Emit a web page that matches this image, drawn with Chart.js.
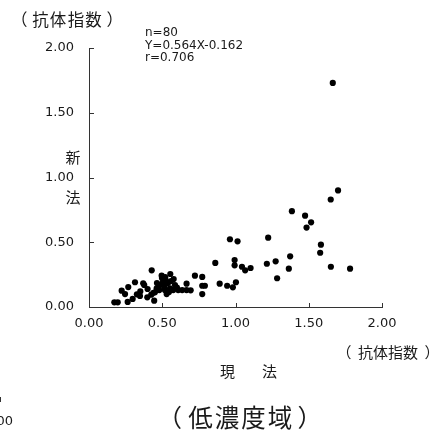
<!DOCTYPE html>
<html>
<head>
<meta charset="utf-8">
<script src="https://cdn.jsdelivr.net/npm/chart.js@4/dist/chart.umd.min.js"></script>
<style>
  html, body { margin: 0; padding: 0; background: #fff; }
  #wrap { position: relative; width: 436px; height: 432px; overflow: hidden; color: #1a1a1a; }
  #wrap canvas { position: absolute; left: 0; top: 0; }
  .num { position: absolute; white-space: nowrap; font-family: "DejaVu Sans", sans-serif; font-size: 12px; color: #1a1a1a; }
</style>
</head>
<body>
<div id="wrap">
  <canvas id="scatter" width="436" height="432"></canvas>
  <div class="num" style="left:145px; top:26px; line-height:12.6px;">n=80<br>Y=0.564X-0.162<br>r=0.706</div>
  <div class="num" style="left:-16px; top:414px; font-size:13px; line-height:1;">0.00</div>
  <div style="position:absolute; left:0; top:397px; width:1px; height:5px; background:#333;"></div>
</div>
<script>
// 現法 (x) と 新法 (y) の抗体指数、低濃度域 n=80
const genHo = [
  1.70, 1.65, 1.385, 1.475, 1.516, 1.485, 0.962, 1.014, 1.223, 1.583,
  1.578, 0.862, 0.994, 0.994, 1.044, 1.066, 1.103, 1.214, 1.274, 1.373,
  1.364, 1.284, 1.651, 1.782, 0.892, 0.943, 0.982, 1.003, 0.773, 0.773,
  0.791, 0.773, 0.723, 0.666, 0.694, 0.428, 0.496, 0.555, 0.578, 0.498,
  0.525, 0.514, 0.553, 0.530, 0.575, 0.609, 0.636, 0.666, 0.480, 0.462,
  0.450, 0.425, 0.398, 0.445, 0.370, 0.377, 0.314, 0.327, 0.348, 0.298,
  0.264, 0.223, 0.268, 0.246, 0.173, 0.196, 1.664, 0.505, 0.539, 0.484,
  0.587, 0.464, 0.400, 0.546, 0.518, 0.560, 0.520, 0.440, 0.600, 0.350
];
const shinHo = [
  0.90, 0.83, 0.74, 0.705, 0.654, 0.613, 0.523, 0.507, 0.535, 0.481,
  0.419, 0.340, 0.363, 0.322, 0.311, 0.283, 0.301, 0.334, 0.353, 0.391,
  0.296, 0.222, 0.311, 0.296, 0.180, 0.164, 0.152, 0.191, 0.232, 0.164,
  0.164, 0.100, 0.242, 0.180, 0.129, 0.283, 0.242, 0.255, 0.216, 0.224,
  0.203, 0.157, 0.144, 0.100, 0.131, 0.131, 0.131, 0.131, 0.131, 0.144,
  0.114, 0.095, 0.075, 0.049, 0.183, 0.170, 0.191, 0.098, 0.085, 0.062,
  0.039, 0.126, 0.154, 0.100, 0.036, 0.036, 1.73, 0.193, 0.185, 0.170,
  0.170, 0.185, 0.139, 0.116, 0.131, 0.200, 0.230, 0.110, 0.150, 0.120
];
const tickValues = [0, 0.5, 1.0, 1.5, 2.0];

// 日本語ラベル: 文字列, 本文の左端x, 中心y, 文字サイズ, 字送り, 括弧の間隔
const jpLabels = [
  ['（抗体指数）', 32, 20, 16.5, 17.5, 7.5],
  ['（抗体指数）', 358, 352, 15, 15, 9],
  ['（低濃度域）', 187, 418, 24.5, 26.5, 9],
  ['新', 65.5, 157, 15, 15, 0],
  ['法', 65.5, 197, 15, 15, 0],
  ['現', 220, 371, 15, 15, 0],
  ['法', 262, 371, 15, 15, 0]
];

const points = genHo.map((x, i) => ({ x: x, y: shinHo[i] }));

// 目盛りを内向きに描く
const innerTicks = {
  id: 'innerTicks',
  afterDraw(chart) {
    const ctx = chart.ctx;
    const xs = chart.scales.x, ys = chart.scales.y;
    ctx.save();
    ctx.strokeStyle = '#333';
    ctx.lineWidth = 1;
    ctx.beginPath();
    tickValues.forEach(v => {
      if (v > 0) {
        const px = Math.round(xs.getPixelForValue(v)) + 0.5;
        ctx.moveTo(px, ys.bottom);
        ctx.lineTo(px, ys.bottom - 4);
        const py = Math.round(ys.getPixelForValue(v)) + 0.5;
        ctx.moveTo(xs.left, py);
        ctx.lineTo(xs.left + 5, py);
      }
    });
    ctx.stroke();
    ctx.restore();
  }
};

// 字形の中心を cx に合わせて描く
function drawInkCentered(ctx, ch, cx, y) {
  const m = ctx.measureText(ch);
  const inkMid = (m.actualBoundingBoxRight - m.actualBoundingBoxLeft) / 2;
  ctx.fillText(ch, cx - inkMid, y);
}

// 漢字は字送り固定で1字ずつ、全角括弧は本文の外側に置く
const jpText = {
  id: 'jpText',
  afterDraw(chart) {
    const ctx = chart.ctx;
    ctx.save();
    ctx.fillStyle = '#1a1a1a';
    ctx.textBaseline = 'middle';
    ctx.textAlign = 'left';
    jpLabels.forEach(([text, x0, y, size, pitch, gap]) => {
      ctx.font = `${size}px "Noto Sans CJK JP", sans-serif`;
      const body = text.replace(/[（）]/g, '');
      [...body].forEach((ch, i) => drawInkCentered(ctx, ch, x0 + (i + 0.5) * pitch, y));
      if (text.startsWith('（')) {
        drawInkCentered(ctx, '（', x0 - gap, y);
        drawInkCentered(ctx, '）', x0 + body.length * pitch + gap, y);
      }
    });
    ctx.restore();
  }
};

const tickFont = { family: '"DejaVu Sans", sans-serif', size: 13 };

new Chart(document.getElementById('scatter').getContext('2d'), {
  type: 'scatter',
  data: {
    datasets: [{
      data: points,
      backgroundColor: '#000',
      borderColor: '#000',
      pointRadius: 3.1,
      pointHoverRadius: 3.1,
      borderWidth: 0
    }]
  },
  options: {
    responsive: false,
    animation: false,
    events: [],
    layout: { padding: { top: 48, right: 54, bottom: 0, left: 0 } },
    plugins: { legend: { display: false }, tooltip: { enabled: false } },
    scales: {
      x: {
        type: 'linear', min: 0, max: 2,
        afterBuildTicks: s => { s.ticks = tickValues.map(v => ({ value: v })); },
        afterFit: s => { s.height = 125; },
        grid: { display: true, drawOnChartArea: false, drawTicks: false },
        border: { display: true, color: '#333', width: 1 },
        ticks: { padding: 9, color: '#1a1a1a', font: tickFont, callback: v => v.toFixed(2) }
      },
      y: {
        type: 'linear', min: 0, max: 2,
        afterBuildTicks: s => { s.ticks = tickValues.map(v => ({ value: v })); },
        afterFit: s => { s.width = 89; },
        grid: { display: true, drawOnChartArea: false, drawTicks: false },
        border: { display: true, color: '#333', width: 1 },
        ticks: { padding: 15, color: '#1a1a1a', font: tickFont, callback: v => v.toFixed(2) }
      }
    }
  },
  plugins: [innerTicks, jpText]
});
</script>
</body>
</html>
